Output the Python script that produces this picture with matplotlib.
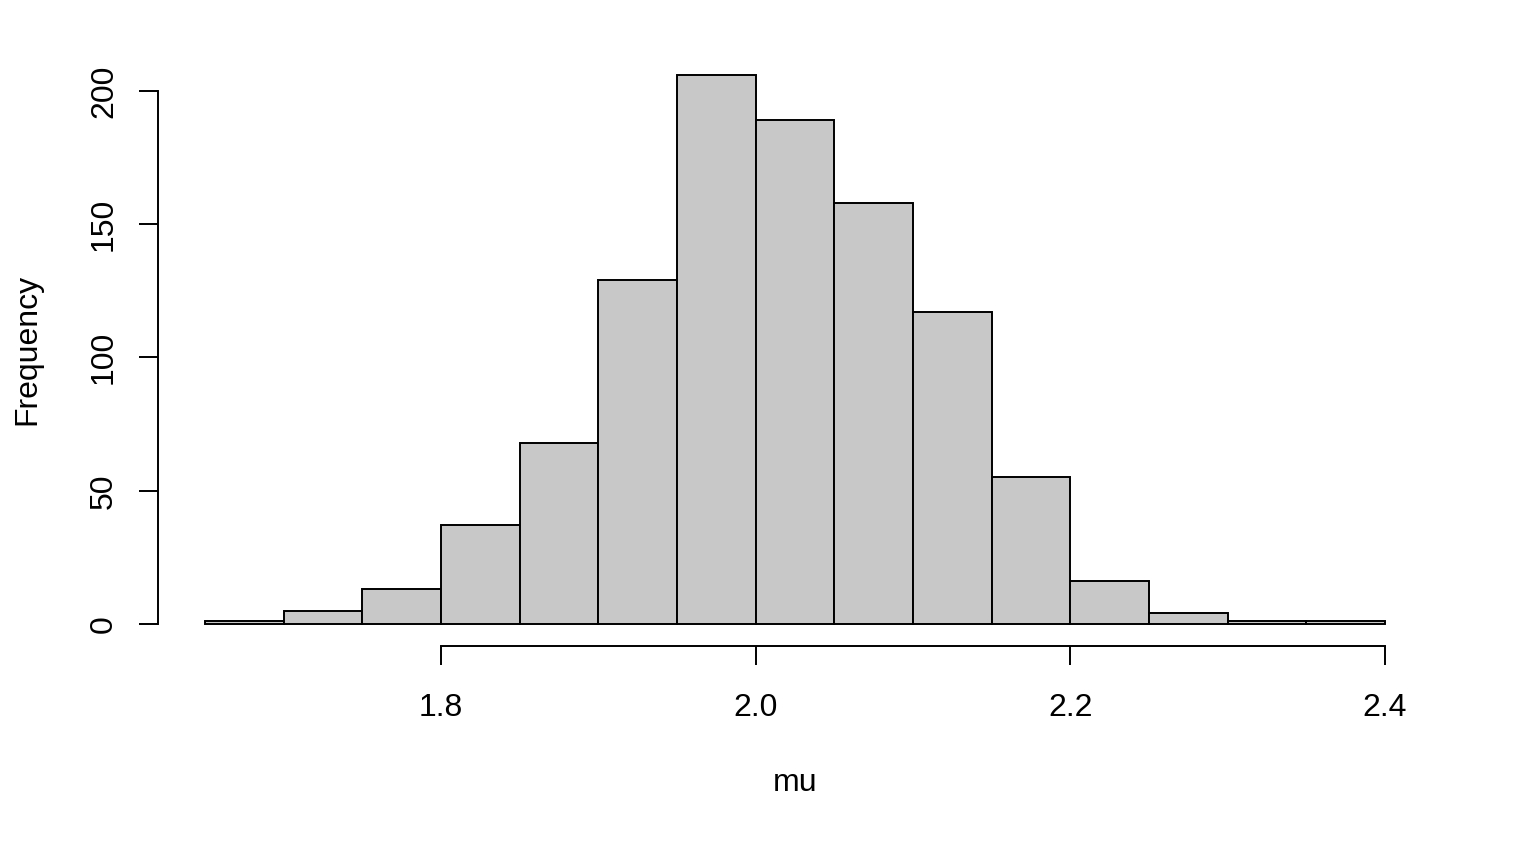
import matplotlib
matplotlib.use("Agg")
import matplotlib.pyplot as plt
import numpy as np

plt.rcParams['font.family'] = ['Liberation Sans', 'DejaVu Sans']

bin_edges = [1.65, 1.70, 1.75, 1.80, 1.85, 1.90, 1.95, 2.00, 2.05, 2.10,
             2.15, 2.20, 2.25, 2.30, 2.35, 2.40]
counts = [1, 5, 13, 37, 68, 129, 206, 189, 158, 117, 55, 16, 4, 1, 1]
x_ticks = [1.8, 2.0, 2.2, 2.4]
x_tick_labels = ["1.8", "2.0", "2.2", "2.4"]
y_ticks = [0, 50, 100, 150, 200]
y_tick_labels = ["0", "50", "100", "150", "200"]

W, H = 1514, 842
fig = plt.figure(figsize=(W / 100, H / 100), dpi=100)
L, R, T, B = 158, 1432, 53, 646
ax = fig.add_axes([L / W, 1 - B / H, (R - L) / W, (B - T) / H])

edges = np.array(bin_edges)
widths = np.diff(edges)
ax.bar(edges[:-1], counts, width=widths, align='edge', color='#C8C8C8',
       edgecolor='black', linewidth=1.4)

xmin, xmax = edges[0], edges[-1]
ymax = max(counts)
ax.set_xlim(xmin - 0.04 * (xmax - xmin), xmax + 0.04 * (xmax - xmin))
ax.set_ylim(-0.04 * ymax, ymax * 1.04)

for s in ['top', 'right']:
    ax.spines[s].set_visible(False)
ax.spines['bottom'].set_bounds(x_ticks[0], x_ticks[-1])
ax.spines['left'].set_bounds(y_ticks[0], y_ticks[-1])
for s in ['bottom', 'left']:
    ax.spines[s].set_linewidth(1.4)

ax.set_xticks(x_ticks)
ax.set_xticklabels(x_tick_labels, fontsize=23)
ax.set_yticks(y_ticks)
ax.set_yticklabels(y_tick_labels, fontsize=23, rotation=90, va='center')
ax.tick_params(axis='x', length=14, width=1.4, pad=20)
ax.tick_params(axis='y', length=14, width=1.4, pad=14)

ax.set_xlabel("mu", fontsize=23)
ax.xaxis.label.set_va('center')
ax.xaxis.set_label_coords(0.5, (B - 783) / (B - T))
ax.set_ylabel("Frequency", fontsize=23)
ax.yaxis.label.set_va('center')
ax.yaxis.set_label_coords((27 - L) / (R - L), 0.5)

fig.savefig("out.png", dpi=100)
